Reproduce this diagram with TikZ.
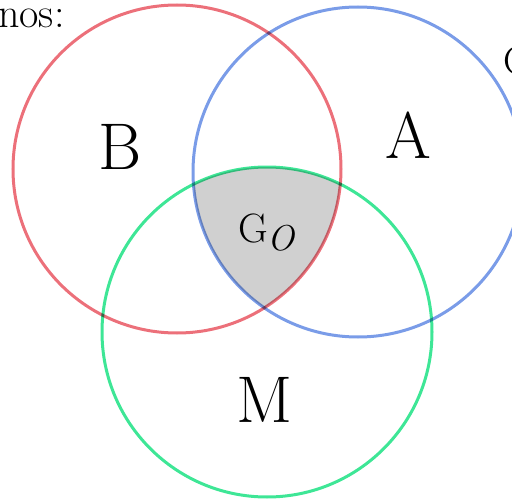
\documentclass[tikz,border=0pt]{standalone}
\definecolor{cred}{RGB}{236,112,122}
\definecolor{cblue}{RGB}{122,156,232}
\definecolor{cgreen}{RGB}{62,230,150}
\definecolor{cgray}{RGB}{208,208,208}
\tikzset{
  ring/.style={line width=3pt, blend mode=multiply},
  biglabel/.style={font=\fontsize{66}{70}\selectfont, inner sep=0pt},
  toptext/.style={font=\fontsize{42}{46}\selectfont, inner sep=0pt, anchor=base west}
}
\begin{document}
\begin{tikzpicture}[x=1pt,y=-1pt]
\useasboundingbox (0,0) rectangle (512,503);
\coordinate (cB) at (177,169);
\coordinate (cA) at (358,172);
\coordinate (cM) at (267,332);
\begin{scope}
  \clip (cB) circle[radius=164pt];
  \clip (cA) circle[radius=165pt];
  \fill[cgray] (cM) circle[radius=165pt];
\end{scope}
\draw[ring, cred] (cB) circle[radius=164pt];
\draw[ring, cblue] (cA) circle[radius=165pt];
\draw[ring, cgreen] (cM) circle[radius=165pt];
\node[biglabel] (lB) at (120,147) {B};
\node[biglabel] (lA) at (408,135) {A};
\node[biglabel] (lM) at (265,400) {M};
\node[inner sep=0pt, anchor=base west, font=\fontsize{41}{44}\selectfont] (lG) at (238,242) {G\raisebox{-8pt}{\fontsize{36}{38}\selectfont\itshape O}};
\node[toptext] (nos) at (-2,28) {nos:};
\node[toptext, font=\fontsize{40}{44}\selectfont] (lC) at (503,75) {C};
\end{tikzpicture}
\end{document}
